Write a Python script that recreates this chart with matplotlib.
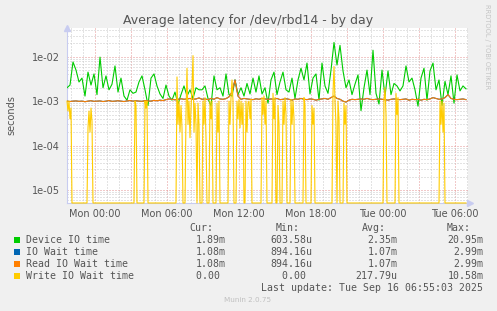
import numpy as np
import pandas as pd
import matplotlib
matplotlib.use("Agg")
import matplotlib.pyplot as plt
import matplotlib.dates as mdates
from matplotlib.ticker import FixedLocator, NullFormatter, LogLocator, FuncFormatter
from matplotlib.patches import Rectangle

plt.rcParams['lines.scale_dashes'] = False

# ---------------- data ----------------
start = "2025-09-14 21:40"

# Device IO time, milliseconds, one value per 15 minutes
device_ms = [2.0, 2.3, 7.6, 5.0, 2.7, 3.3, 1.3, 4.5, 2.3, 4.1, 1.4, 9.8, 2.0, 3.7, 1.8, 2.4, 6.2, 1.6, 3.3, 1.3, 1.05, 1.8, 1.5,
             1.6, 2.7, 3.7, 1.8, 0.8, 3.3, 4.1, 2.2, 1.45, 1.15, 2.3, 1.3, 1.05, 1.6, 0.86, 1.4, 2.2, 1.3, 1.8, 1.15, 2.0, 1.8,
             1.8, 2.2, 1.15, 0.77, 3.7, 1.8, 2.0, 1.3, 4.1, 1.4, 1.3, 3.0, 1.4, 2.0, 1.3, 2.5, 1.45, 3.3, 1.6, 3.7, 1.45, 2.0, 0.9,
             3.0, 4.5, 1.4, 2.7, 4.5, 1.8, 1.6, 3.3, 1.15, 3.0, 5.5,
             3.0, 7.2, 1.45, 3.3, 4.1, 1.05, 7.2, 2.2, 1.5, 5.0, 20.95,
             6.5, 18.0, 4.8, 2.0, 3.0, 1.4, 2.4, 3.9, 0.61, 2.0, 5.0,
             1.4, 14.0, 1.5, 0.86, 5.0, 1.3, 4.8, 1.4, 2.5, 2.2, 1.7,
             2.2, 6.2, 2.7, 3.3, 1.8, 0.77, 3.3, 5.5, 1.05, 4.8, 7.2,
             1.8, 3.0, 0.8, 2.8, 1.4, 3.7, 0.9, 3.9, 1.7, 2.2, 1.89]

# Read IO Wait time, milliseconds, one value per 15 minutes
read_ms = [1.0, 0.98, 1.0, 1.01, 0.99, 1.0, 0.97, 1.0, 1.02, 0.99, 1.0, 1.01, 0.98, 1.0, 1.03, 0.99, 1.0, 1.02, 1.0, 0.98, 1.01, 1.03, 1.0,
           1.02, 1.0, 0.99, 1.03, 1.01, 1.0, 1.04, 1.02, 1.05, 1.03, 1.08, 1.12, 1.1, 1.07, 1.1, 1.13, 1.1, 1.12, 1.15, 1.1, 1.12, 1.18,
           1.1, 1.12, 1.08, 1.15, 1.1, 1.2, 1.12, 1.1, 1.14, 1.25, 1.6, 2.99, 1.3, 1.1, 1.15, 1.12, 1.1, 1.08, 1.13, 1.1, 1.15, 1.12, 1.1,
           1.12, 1.1, 1.15, 1.08, 1.1, 1.13, 1.1, 1.05, 1.12, 1.1, 1.15,
           1.1, 1.08, 1.12, 1.1, 1.05, 1.1, 1.12, 1.15, 1.1, 1.2, 1.3,
           1.15, 1.1, 1.0, 0.95, 1.05, 1.1, 1.08, 1.1, 1.12, 1.1, 1.15,
           1.1, 1.08, 1.1, 1.12, 1.1, 1.08, 1.05, 1.1, 1.12, 1.1, 1.08,
           1.1, 1.12, 1.05, 1.1, 1.08, 1.1, 1.05, 1.1, 1.08, 1.12, 1.2,
           1.15, 1.1, 1.12, 1.2, 1.4, 1.15, 1.1, 1.08, 1.1, 1.12, 1.08]

# IO Wait time equals Read IO Wait time (no writes waiting)
iowait_ms = list(read_ms)

# Write IO Wait time: 5-minute samples, zero except these runs (start sample, values in ms)
write_samples = 400
write_runs = [
    (0, [1.0, 0.6, 1.0, 0.4, 0.7]),
    (21, [0.25, 0.6, 0.2, 0.7, 0.35]),
    (68, [1.0, 0.8]),
    (78, [1.0, 0.7, 1.0]),
    (110, [3.5, 0.3, 1.0, 0.2, 0.8, 0.25]),
    (119, [0.5, 5.5, 0.3, 1.0, 0.15, 0.7, 2.0, 10.58, 0.2, 0.9, 0.3]),
    (131, [0.9, 0.3]),
    (136, [1.0, 0.3, 1.2, 0.15]),
    (143, [1.0, 0.4, 1.0]),
    (150, [0.9, 0.2, 1.0]),
    (162, [1.0, 0.3, 1.2, 3.0, 1.0]),
    (170, [1.0, 0.4, 1.1, 0.25, 1.0, 0.3, 0.9]),
    (179, [1.0, 0.2, 0.9, 1.0, 0.4, 1.1]),
    (195, [1.2, 0.5, 1.3, 0.3, 1.0]),
    (206, [1.5, 0.4, 1.2]),
    (211, [0.8, 0.3]),
    (216, [1.0, 0.3, 1.2, 0.5]),
    (224, [1.1, 0.3, 1.0, 0.4]),
    (237, [1.2, 0.8]),
    (245, [0.8, 0.3, 0.7]),
    (266, [1.5, 6.0, 1.0, 0.3]),
    (271, [1.0, 0.4]),
    (277, [0.9, 0.3, 0.8]),
    (317, [1.0, 2.0, 0.5]),
    (329, [1.5, 0.5, 1.2]),
    (373, [1.0, 0.3, 1.0, 0.2, 0.9]),
]

legend_names = ["Device IO time", "IO Wait time", "Read IO Wait time", "Write IO Wait time"]
legend_colors = ["#00CC00", "#0066B3", "#FF8000", "#FFCC00"]
cur_vals = ["1.89m", "1.08m", "1.08m", "0.00 "]
min_vals = ["603.58u", "894.16u", "894.16u", "0.00 "]
avg_vals = ["2.35m", "1.07m", "1.07m", "217.79u"]
max_vals = ["20.95m", "2.99m", "2.99m", "10.58m"]

ytick_vals = [1e-2, 1e-3, 1e-4, 1e-5]
ytick_labels = ["1e-02", "1e-03", "1e-04", "1e-05"]

# ---------------- build ----------------
t15 = pd.date_range(start, periods=len(device_ms), freq="15min")
t5 = pd.date_range(start, periods=write_samples, freq="5min")
write_ms = np.zeros(write_samples)
for s, vals in write_runs:
    write_ms[s:s + len(vals)] = vals

W, H = 497, 311
fig = plt.figure(figsize=(W / 100, H / 100), dpi=100, facecolor="#F0F0F0")
ax = fig.add_axes([67 / W, 1 - 203 / H, 401 / W, 175 / H])
ax.set_facecolor("white")
ax.set_yscale("log")
ymin, ymax = 5.09e-6, 4.43e-2
ax.set_ylim(ymin, ymax)
ax.set_xlim(t5[0], t5[0] + pd.Timedelta(minutes=5 * 401))

lw = 0.8
ax.plot(t15, np.array(device_ms) * 1e-3, color=legend_colors[0], lw=lw, zorder=3)
ax.plot(t15, np.array(iowait_ms) * 1e-3, color=legend_colors[1], lw=lw, zorder=3)
ax.plot(t15, np.array(read_ms) * 1e-3, color=legend_colors[2], lw=lw, zorder=3)
wplot = np.where(write_ms > 0, write_ms * 1e-3, ymin)
ax.plot(t5, wplot, color=legend_colors[3], lw=lw, zorder=4, clip_on=False)

# axes / grid
for s in ["top", "right"]:
    ax.spines[s].set_visible(False)
for s in ["left", "bottom"]:
    ax.spines[s].set_color("#C8CCF0")
    ax.spines[s].set_linewidth(0.8)

ax.yaxis.set_major_locator(FixedLocator(ytick_vals))
ax.set_yticklabels(ytick_labels)
ax.yaxis.set_minor_locator(LogLocator(base=10, subs=range(2, 10), numticks=20))
ax.yaxis.set_minor_formatter(NullFormatter())

ax.xaxis.set_major_locator(mdates.HourLocator(byhour=range(0, 24, 3)))
ax.xaxis.set_minor_locator(mdates.HourLocator())

def xfmt(v, pos):
    d = mdates.num2date(v)
    if d.hour % 6 == 0:
        return d.strftime("%a %H:%M")
    return ""
ax.xaxis.set_major_formatter(FuncFormatter(xfmt))

ax.tick_params(which="both", length=0, colors="#555555", labelsize=7)
ax.tick_params(axis="y", pad=5)
ax.tick_params(axis="x", pad=4)
ax.set_axisbelow(True)
ax.grid(which="minor", color="#C8C8C8", linestyle=(0, (0.72, 1.44)), linewidth=0.72)
ax.grid(which="major", color="#E49494", linestyle=(0, (0.72, 1.44)), linewidth=0.72)

# arrows
ax.plot([0], [1.0], marker="^", markersize=4, color="#C8CCF0", transform=ax.transAxes, clip_on=False)
ax.plot([1.005], [0], marker=">", markersize=4, color="#C8CCF0", transform=ax.transAxes, clip_on=False)

def fx(x):
    return x / W

def fy(y):
    return 1 - y / H

fig.text(fx(248), fy(24), "Average latency for /dev/rbd14 - by day", ha="center", va="baseline",
         fontsize=9, color="#555555")
fig.text(fx(11), fy(115), "seconds", rotation=90, ha="center", va="center", fontsize=7, color="#555555")
fig.text(fx(487.5), fy(4), "RRDTOOL / TOBI OETIKER", rotation=270, ha="center", va="top",
         fontsize=4.8, color="#C4C4C4")

mono = "DejaVu Sans Mono"
fs = 7.15
tc = "#555555"
header_y = 231
for label, xr in [("Cur:", 213.5), ("Min:", 299.5), ("Avg:", 385.5), ("Max:", 471)]:
    fig.text(fx(xr), fy(header_y), label, ha="right", va="baseline", family=mono, fontsize=fs, color=tc)

for i, name in enumerate(legend_names):
    yb = 243.3 + 12 * i
    fig.add_artist(Rectangle((fx(14), fy(yb - 0.7)), 5.5 / W, 5.5 / H, transform=fig.transFigure,
                             facecolor=legend_colors[i], edgecolor="none"))
    fig.text(fx(26.5), fy(yb), name, ha="left", va="baseline", family=mono, fontsize=fs, color=tc)
    for vals, xr in [(cur_vals, 226), (min_vals, 312), (avg_vals, 397.5), (max_vals, 483.5)]:
        fig.text(fx(xr), fy(yb), vals[i], ha="right", va="baseline", family=mono, fontsize=fs, color=tc)

fig.text(fx(483), fy(291.3), "Last update: Tue Sep 16 06:55:03 2025", ha="right", va="baseline",
         family=mono, fontsize=fs, color=tc)
fig.text(fx(248), fy(300.5), "Munin 2.0.75", ha="center", va="center", fontsize=5.2, color="#C0C0C0")

fig.savefig("out.png", dpi=100, facecolor=fig.get_facecolor())
